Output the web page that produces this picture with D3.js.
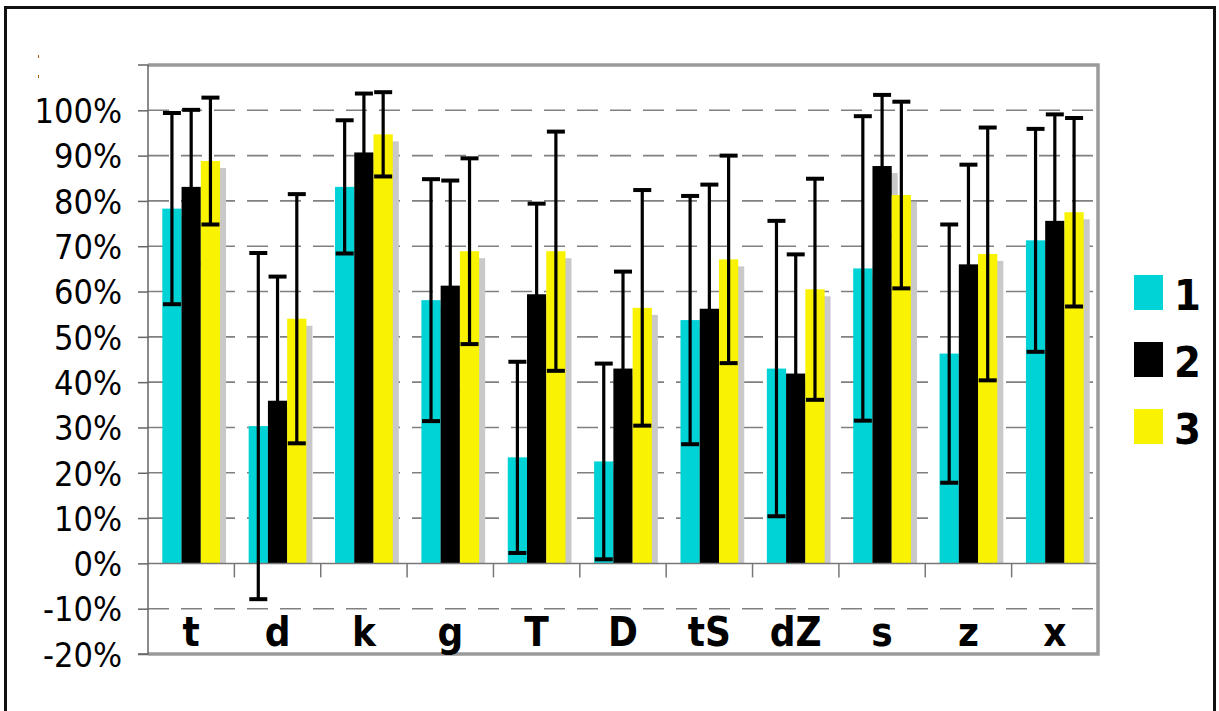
<!DOCTYPE html>
<html>
<head>
<meta charset="utf-8">
<script src="https://cdn.jsdelivr.net/npm/d3@7/dist/d3.min.js"></script>
<style>
  html, body { margin: 0; padding: 0; background: #fff; }
  svg { display: block; }
  .ylab { font-family: "DejaVu Sans Condensed", "DejaVu Sans", sans-serif; font-stretch: condensed; }
  .xlab, .leg { font-family: "DejaVu Sans Condensed", "DejaVu Sans", sans-serif; font-stretch: condensed; font-weight: bold; }
</style>
</head>
<body>
<svg id="chart" width="1219" height="711"></svg>
<script>
// ---- data ----
const categories = ["t", "d", "k", "g", "T", "D", "tS", "dZ", "s", "z", "x"];
const seriesNames = ["1", "2", "3"];
const series1 = [78.3, 30.3, 83.1, 58.1, 23.4, 22.5, 53.7, 43.0, 65.1, 46.3, 71.3];
const series2 = [83.1, 35.9, 90.7, 61.3, 59.4, 43.0, 56.2, 41.9, 87.7, 66.0, 75.6];
const series3 = [88.8, 54.0, 94.7, 68.9, 68.9, 56.4, 67.1, 60.5, 81.3, 68.3, 77.5];
const error1 = [21.1, 38.2, 14.7, 26.7, 21.1, 21.6, 27.4, 32.6, 33.6, 28.5, 24.6];
const error2 = [17.0, 27.4, 13.0, 23.2, 20.0, 21.4, 27.4, 26.3, 15.7, 22.0, 23.5];
const error3 = [14.0, 27.5, 9.3, 20.5, 26.4, 26.0, 22.9, 24.4, 20.6, 27.9, 20.8];
const yTicks = [-20, -10, 0, 10, 20, 30, 40, 50, 60, 70, 80, 90, 100];
const colors = ["#00d3d6", "#000000", "#f9f200"];

const values = [series1, series2, series3];
const errors = [error1, error2, error3];

(function () {
const svg = d3.select("#chart");

// outer frame
svg.append("rect").attr("x", 5.5).attr("y", 7.5).attr("width", 1209).attr("height", 720)
  .attr("fill", "none").attr("stroke", "#111").attr("stroke-width", 3);

// small stray marks near top-left
svg.append("line").attr("x1", 38.5).attr("x2", 38.5).attr("y1", 55).attr("y2", 58)
  .attr("stroke", "#b06010").attr("stroke-width", 1);
svg.append("line").attr("x1", 38.5).attr("x2", 38.5).attr("y1", 75).attr("y2", 78)
  .attr("stroke", "#b06010").attr("stroke-width", 1);

const pL = 148, pR = 1098, pT = 65, pB = 654;

const x = d3.scaleBand().domain(categories).range([pL, pR]).padding(0);
const xs = d3.scaleBand().domain(seriesNames).range([14.3, x.bandwidth() - 14.3]).padding(0);
const y = d3.scaleLinear().domain([-20, 110]).range([pB, pT]);

// dashed gridlines
svg.append("g").selectAll("line").data(yTicks.filter(t => t !== 0 && t !== -20)).join("line")
  .attr("x1", pL).attr("x2", pR)
  .attr("y1", d => y(d)).attr("y2", d => y(d))
  .attr("stroke", "#808080").attr("stroke-width", 1.6)
  .attr("stroke-dasharray", "21,12");

// data rows
const rows = [];
categories.forEach((c, i) => {
  seriesNames.forEach((s, j) => {
    rows.push({ cat: c, ser: s, j: j, v: values[j][i], e: errors[j][i] });
  });
});

// shadows
svg.append("g").selectAll("rect").data(rows).join("rect")
  .attr("x", d => x(d.cat) + xs(d.ser) + 6)
  .attr("y", d => y(d.v) + 7)
  .attr("width", xs.bandwidth())
  .attr("height", d => Math.max(0, y(0) - y(d.v) - 7))
  .attr("fill", "#c9c9c9");

// bars
svg.append("g").selectAll("rect").data(rows).join("rect")
  .attr("x", d => x(d.cat) + xs(d.ser))
  .attr("y", d => y(d.v))
  .attr("width", xs.bandwidth())
  .attr("height", d => y(0) - y(d.v))
  .attr("fill", d => colors[d.j]);

// x axis line at 0
svg.append("line").attr("x1", pL).attr("x2", pR).attr("y1", y(0)).attr("y2", y(0))
  .attr("stroke", "#777").attr("stroke-width", 1.5);
// category boundary ticks
const bounds = categories.map(c => x(c)).concat([pR]);
svg.append("g").selectAll("line").data(bounds.slice(1)).join("line")
  .attr("x1", d => d).attr("x2", d => d)
  .attr("y1", y(0)).attr("y2", y(0) + 14)
  .attr("stroke", "#777").attr("stroke-width", 1.5);

// error bars
const eg = svg.append("g");
const capW = 18;
rows.forEach(d => {
  const cx = x(d.cat) + xs(d.ser) + xs.bandwidth() / 2;
  const y1 = y(d.v + d.e), y2 = y(d.v - d.e);
  eg.append("line").attr("x1", cx).attr("x2", cx).attr("y1", y1).attr("y2", y2)
    .attr("stroke", "#000").attr("stroke-width", 3.2);
  [y1, y2].forEach(yy => {
    eg.append("line").attr("x1", cx - capW / 2).attr("x2", cx + capW / 2).attr("y1", yy).attr("y2", yy)
      .attr("stroke", "#000").attr("stroke-width", 4);
  });
});

// plot frame (top, right, bottom) gray thick
svg.append("path")
  .attr("d", `M${pL},${pT}H${pR}V${pB}H${pL}`)
  .attr("fill", "none").attr("stroke", "#9a9a9a").attr("stroke-width", 3.5);

// y axis
const yAxis = d3.axisLeft(y).tickValues(yTicks).tickSize(10).tickPadding(16)
  .tickFormat(d => d + "%");
const ya = svg.append("g").attr("transform", `translate(${pL},0)`).call(yAxis);
ya.select(".domain").attr("stroke", "#666").attr("stroke-width", 1.5)
  .attr("d", `M-10,${pT}H0V${pB}H-10`);
ya.selectAll(".tick line").attr("stroke", "#666").attr("stroke-width", 1.5);
ya.selectAll(".tick text").attr("class", "ylab").attr("fill", "#000")
  .style("font-size", "34px").attr("dy", "0.36em");

// x labels
svg.append("g").selectAll("text").data(categories).join("text")
  .attr("class", "xlab")
  .attr("x", d => x(d) + x.bandwidth() / 2)
  .attr("y", 646)
  .attr("text-anchor", "middle")
  .style("font-size", "40px")
  .text(d => d);

// legend
const lg = svg.append("g");
seriesNames.forEach((s, j) => {
  const ly = 275 + j * 67;
  lg.append("rect").attr("x", 1134).attr("y", ly).attr("width", 29).attr("height", 35)
    .attr("fill", colors[j]);
  lg.append("text").attr("class", "leg").attr("x", 1174).attr("y", ly + 35)
    .style("font-size", "43px").text(s);
});
})();
</script>
</body>
</html>
